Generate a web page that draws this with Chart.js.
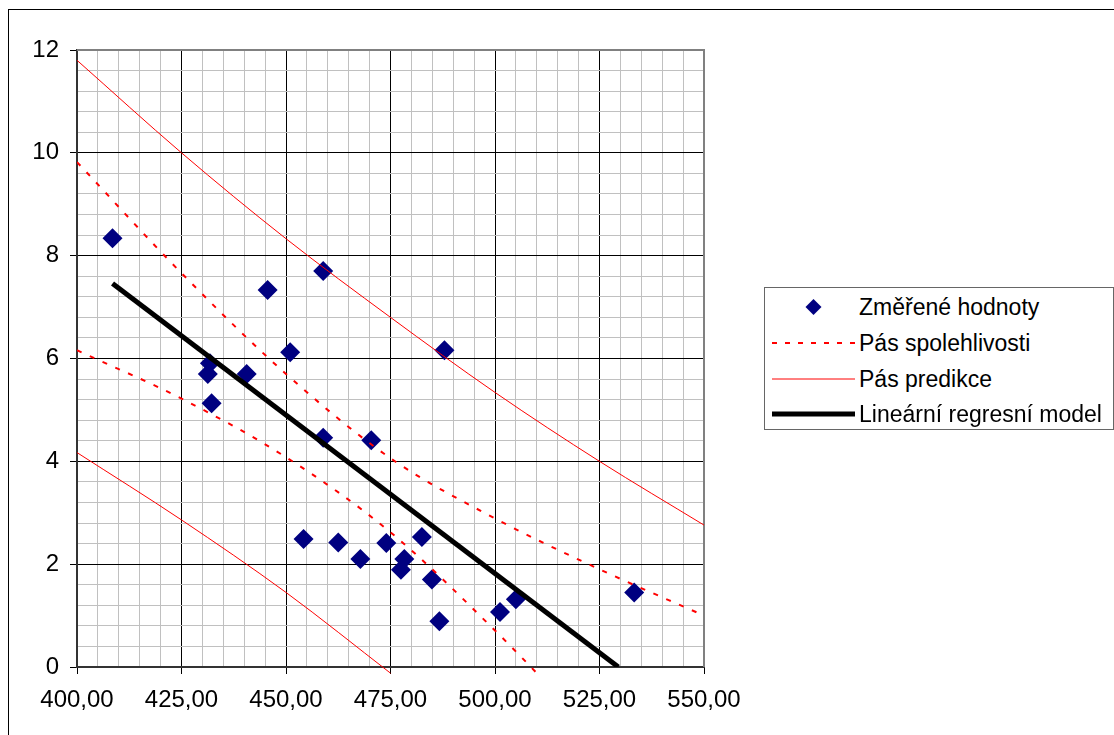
<!DOCTYPE html>
<html>
<head>
<meta charset="utf-8">
<script src="https://cdn.jsdelivr.net/npm/chart.js@4.4.1/dist/chart.umd.min.js"></script>
<style>
html, body { margin: 0; padding: 0; background: #fff; overflow: hidden; }
#frame { position: absolute; left: 8px; top: 9px; width: 1300px; height: 900px; border: 1px solid #000; }
#wrap { position: absolute; left: 0; top: 0; width: 1114px; height: 735px; }
#legend { position: absolute; left: 764px; top: 287px; width: 348px; height: 141px; border: 1px solid #666;
  background: #fff; font-family: "Liberation Sans", Arial, sans-serif; font-size: 23px; color: #000; }
.row { position: absolute; left: 0; width: 100%; height: 36px; }
.row svg { position: absolute; left: 7px; top: 0; }
.row span { position: absolute; left: 94px; top: 0; line-height: 36px; white-space: nowrap; }
</style>
</head>
<body>
<div id="frame"></div>
<div id="wrap"><canvas id="myChart" width="1114" height="735"></canvas></div>
<div id="legend"></div>
<script>
// series names (legend order)
var seriesNames = ['Změřené hodnoty', 'Pás spolehlivosti', 'Pás predikce', 'Lineární regresní model'];

// measured values
var measuredX = [408.5, 445.6, 458.9, 451.0, 487.9, 431.8, 431.3, 440.6, 432.2, 458.9, 470.4, 454.2,
                 462.5, 467.8, 474.0, 482.5, 478.3, 477.5, 484.9, 486.7, 501.2, 505.0, 533.3];
var measuredY = [8.34, 7.33, 7.70, 6.12, 6.16, 5.91, 5.70, 5.70, 5.13, 4.46, 4.41, 2.49,
                 2.42, 2.10, 2.41, 2.53, 2.10, 1.89, 1.70, 0.89, 1.07, 1.32, 1.45];

// band lines read at the major grid positions
var bandX = [400, 425, 450, 475, 500, 525, 550];
var confUpper = [9.82, 7.66, 5.70, 4.06, 2.89, 1.90, 1.00];
var confLower = [6.16, 5.22, 4.08, 2.62, 0.71, -1.40, null];
var predUpper = [11.80, 10.00, 8.33, 6.80, 5.34, 4.00, 2.76];
var predLower = [4.17, 2.86, 1.45, -0.12, null, null, null];

// regression line end points
var regX = [408.5, 529.5];
var regY = [7.46, 0];

// axis ticks
var xMin = 400, xMax = 550, xMajor = 25, xMinor = 5;
var yMin = 0, yMax = 12, yMajor = 2, yMinor = 0.4;

function pts(xs, ys) {
    var out = [];
    for (var i = 0; i < xs.length; i++) {
        if (ys[i] !== null) out.push({x: xs[i], y: ys[i]});
    }
    return out;
}

function isMajor(v, step) {
    return Math.abs(v / step - Math.round(v / step)) < 1e-6;
}

var plotBorder = {
    id: 'plotBorder',
    beforeDatasetsDraw: function(chart) {
        var a = chart.chartArea, c = chart.ctx;
        c.save();
        c.strokeStyle = '#808080';
        c.lineWidth = 2;
        c.beginPath();
        c.moveTo(a.left, a.top);
        c.lineTo(a.right, a.top);
        c.lineTo(a.right, a.bottom);
        c.stroke();
        c.restore();
    }
};

var tickFont = {family: '"Liberation Sans", Arial, sans-serif', size: 24};
var bandClip = {left: 0, top: 0, right: 0, bottom: 8};

var ctx = document.getElementById('myChart').getContext('2d');
var chart = new Chart(ctx, {
    type: 'scatter',
    data: {
        datasets: [{
            label: seriesNames[0],
            data: pts(measuredX, measuredY),
            pointStyle: 'rectRot',
            pointRadius: 10,
            backgroundColor: '#000080',
            borderColor: '#000080',
            borderWidth: 0,
            order: 4
        }, {
            label: seriesNames[1],
            data: pts(bandX, confUpper),
            showLine: true,
            pointRadius: 0,
            borderColor: '#ff0000',
            borderWidth: 2,
            borderDash: [5, 9],
            cubicInterpolationMode: 'monotone',
            clip: bandClip,
            order: 3
        }, {
            label: seriesNames[1],
            data: pts(bandX, confLower),
            showLine: true,
            pointRadius: 0,
            borderColor: '#ff0000',
            borderWidth: 2,
            borderDash: [5, 9],
            cubicInterpolationMode: 'monotone',
            clip: bandClip,
            order: 3
        }, {
            label: seriesNames[2],
            data: pts(bandX, predUpper),
            showLine: true,
            pointRadius: 0,
            borderColor: '#ff0000',
            borderWidth: 1,
            cubicInterpolationMode: 'monotone',
            clip: bandClip,
            order: 2
        }, {
            label: seriesNames[2],
            data: pts(bandX, predLower),
            showLine: true,
            pointRadius: 0,
            borderColor: '#ff0000',
            borderWidth: 1,
            cubicInterpolationMode: 'monotone',
            clip: bandClip,
            order: 2
        }, {
            label: seriesNames[3],
            data: pts(regX, regY),
            showLine: true,
            pointRadius: 0,
            borderColor: '#000000',
            borderWidth: 5,
            order: 1
        }]
    },
    options: {
        responsive: false,
        animation: false,
        events: [],
        layout: {padding: {left: 0, top: 50, right: 410, bottom: 0}},
        plugins: {legend: {display: false}, tooltip: {enabled: false}},
        scales: {
            x: {
                type: 'linear',
                min: xMin, max: xMax,
                afterFit: function(s) { s.height = 68; },
                border: {display: true, color: '#333', width: 2},
                grid: {
                    color: function(c) {
                        if (c.tick.value === xMax) return '#808080';
                        return isMajor(c.tick.value, xMajor) ? '#000' : '#c0c0c0';
                    },
                    lineWidth: 1,
                    drawTicks: true,
                    tickLength: 7,
                    tickColor: function(c) { return isMajor(c.tick.value, xMajor) ? '#000' : 'rgba(0,0,0,0)'; }
                },
                ticks: {
                    stepSize: xMinor,
                    autoSkip: false,
                    maxRotation: 0, minRotation: 0,
                    padding: 12,
                    color: '#000',
                    font: tickFont,
                    callback: function(v) { return isMajor(v, xMajor) ? v.toFixed(2).replace('.', ',') : ''; }
                }
            },
            y: {
                type: 'linear',
                min: yMin, max: yMax,
                afterFit: function(s) { s.width = 77; },
                border: {display: true, color: '#333', width: 2},
                grid: {
                    color: function(c) {
                        if (Math.abs(c.tick.value - yMax) < 1e-6) return '#808080';
                        return isMajor(c.tick.value, yMajor) ? '#000' : '#c0c0c0';
                    },
                    lineWidth: 1,
                    drawTicks: true,
                    tickLength: 7,
                    tickColor: function(c) { return isMajor(c.tick.value, yMajor) ? '#000' : 'rgba(0,0,0,0)'; }
                },
                ticks: {
                    stepSize: yMinor,
                    autoSkip: false,
                    padding: 11,
                    color: '#000',
                    font: tickFont,
                    callback: function(v) { return isMajor(v, yMajor) ? String(Math.round(v)) : ''; }
                }
            }
        }
    },
    plugins: [plotBorder]
});

// legend as html
var legend = document.getElementById('legend');
var rowTops = [1, 37, 73, 108];
var symbols = [
    '<polygon points="41.5,10 49.5,18 41.5,26 33.5,18" fill="#000080"/>',
    '<line x1="0" y1="18" x2="83" y2="18" stroke="#ff0000" stroke-width="2" stroke-dasharray="5,8"/>',
    '<line x1="0" y1="18" x2="83" y2="18" stroke="#ff0000" stroke-width="1"/>',
    '<line x1="0" y1="18" x2="83" y2="18" stroke="#000" stroke-width="5"/>'
];
seriesNames.forEach(function(name, i) {
    var row = document.createElement('div');
    row.className = 'row';
    row.style.top = rowTops[i] + 'px';
    row.innerHTML = '<svg width="84" height="36">' + symbols[i] + '</svg><span>' + name + '</span>';
    legend.appendChild(row);
});
</script>
</body>
</html>
